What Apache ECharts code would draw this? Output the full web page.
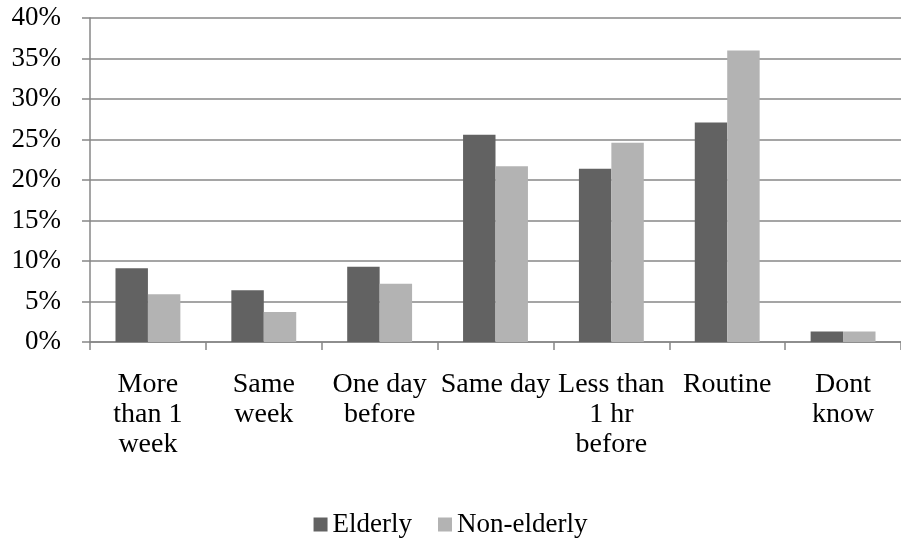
<!DOCTYPE html>
<html>
<head>
<meta charset="utf-8">
<script src="https://cdn.jsdelivr.net/npm/echarts@6/dist/echarts.min.js"></script>
<style>
  html, body { margin: 0; padding: 0; background: #fff; }
  #chart { width: 901px; height: 542px; }
</style>
</head>
<body>
<div id="chart"></div>
<script>
// categories and values (percent)
var categories = ["More\nthan 1\nweek", "Same\nweek", "One day\nbefore", "Same day", "Less than\n1 hr\nbefore", "Routine", "Dont\nknow"];
var elderly = [9.1, 6.4, 9.3, 25.6, 21.4, 27.1, 1.3];
var nonElderly = [5.9, 3.7, 7.2, 21.7, 24.6, 36.0, 1.3];
var seriesNames = ["Elderly", "Non-elderly"];

var chart = echarts.init(document.getElementById("chart"));
var font = "Liberation Serif";
var lineColor = "#878787";

var option = {
  animation: false,
  color: ["#626262", "#b3b3b3"],
  textStyle: { fontFamily: font },
  grid: {
    left: 90,
    right: -7,
    top: 18,
    bottom: 200
  },
  legend: {
    bottom: -1,
    left: "center",
    itemWidth: 14,
    itemHeight: 14,
    itemGap: 26,
    icon: "rect",
    data: seriesNames,
    textStyle: { fontFamily: font, fontSize: 27, color: "#000" }
  },
  xAxis: {
    type: "category",
    data: categories,
    axisLine: { lineStyle: { color: lineColor, width: 1.5 } },
    axisTick: { show: true, length: 8, lineStyle: { color: lineColor, width: 1.5 } },
    axisLabel: {
      interval: 0,
      margin: 28,
      color: "#000",
      fontFamily: font,
      fontSize: 28,
      lineHeight: 30
    }
  },
  yAxis: {
    type: "value",
    min: 0,
    max: 40,
    interval: 5,
    axisLine: { show: true, lineStyle: { color: lineColor, width: 1.5 } },
    axisTick: { show: true, length: 8, lineStyle: { color: lineColor, width: 1.5 } },
    splitLine: { lineStyle: { color: lineColor, width: 1.5 } },
    axisLabel: {
      margin: 29,
      color: "#000",
      fontFamily: font,
      fontSize: 27,
      formatter: "{value}%"
    }
  },
  series: [
    {
      name: seriesNames[0],
      type: "bar",
      data: elderly,
      barGap: "0%",
      barCategoryGap: "44%"
    },
    {
      name: seriesNames[1],
      type: "bar",
      data: nonElderly,
      barGap: "0%",
      barCategoryGap: "44%"
    }
  ]
};
chart.setOption(option);
</script>
</body>
</html>
